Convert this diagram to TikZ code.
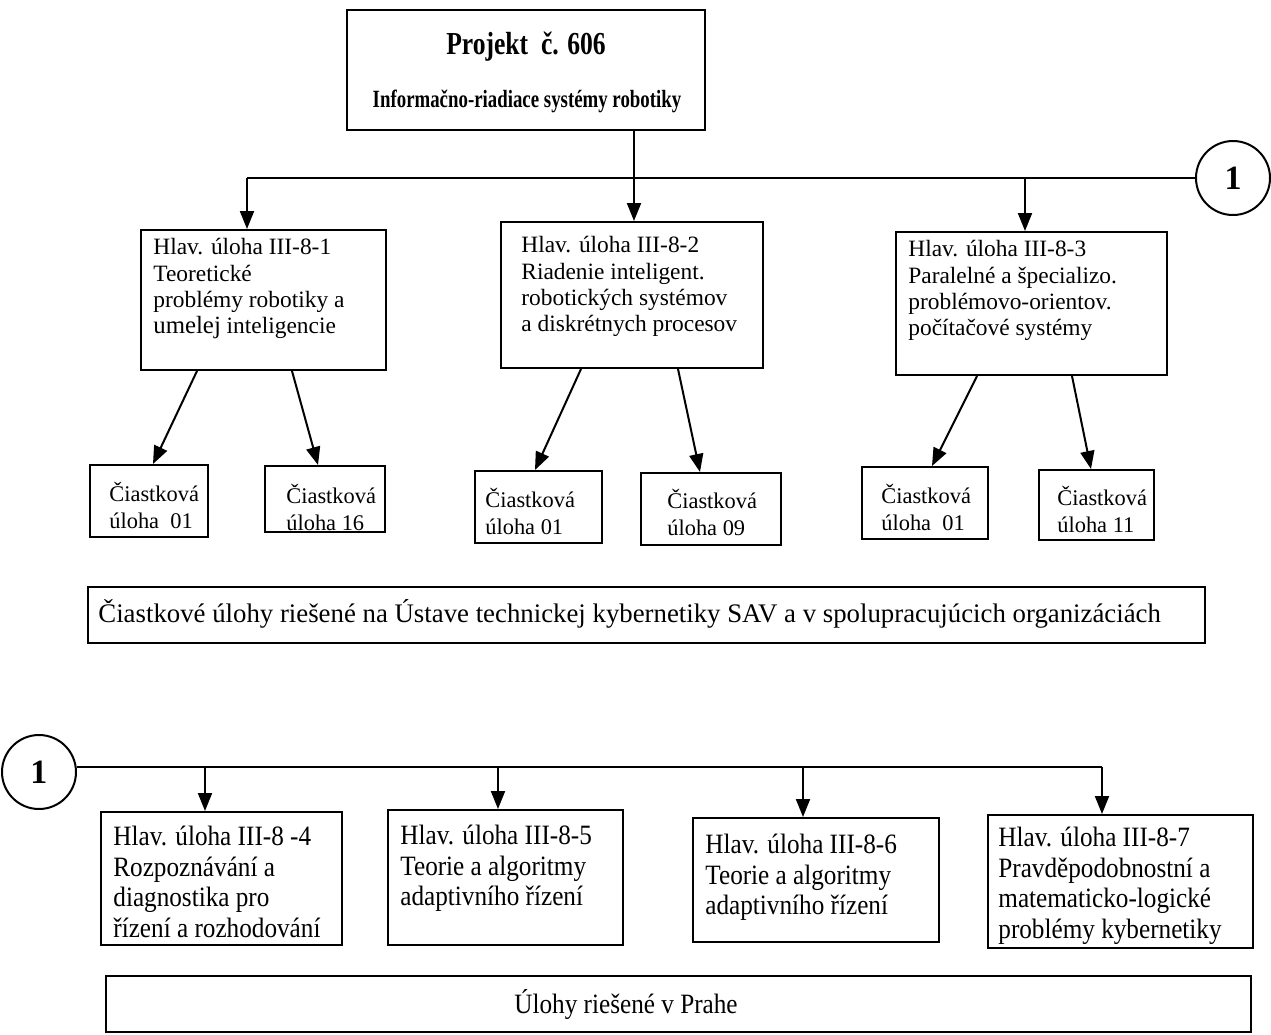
\documentclass[tikz,border=0pt]{standalone}
\usepackage{fontspec}
\setmainfont{Liberation Serif}
\newfontfamily\narrowfont[FakeStretch=0.9]{Liberation Serif}
\newfontfamily\titlefont[FakeStretch=0.8]{Liberation Serif}
\newfontfamily\subtitlefont[FakeStretch=0.76]{Liberation Serif}
\usetikzlibrary{arrows.meta,fit}
\begin{document}
\begin{tikzpicture}[x=0.5pt,y=-0.5pt,
  box/.style={draw, line width=1pt, inner sep=0pt},
  txt/.style={inner sep=0pt, anchor=north west, align=left, font=\fontsize{11.7}{13.2}\selectfont},
  stxt/.style={inner sep=0pt, anchor=north west, align=left, font=\fontsize{11.2}{13.4}\selectfont},
  ltxt/.style={inner sep=0pt, anchor=north west, align=left, font=\narrowfont\fontsize{14}{15.25}\selectfont},
  ln/.style={line width=1pt},
  arr/.style={line width=1pt, -{Triangle[length=9pt,width=7pt]}},
  ring/.style={circle, draw, line width=1pt, minimum size=37pt, inner sep=0pt, font=\fontsize{17}{17}\selectfont\bfseries}
]
\path[use as bounding box] (0,0) rectangle (1271,1035);

% top box
\node[box, line width=1.2pt, fit={(347,10)(705,130)}] (top) {};
\node[inner sep=0pt, font=\titlefont\bfseries\fontsize{16}{18}\selectfont] (title) at (526,47) {Projekt\ \ č. 606};
\node[inner sep=0pt, font=\subtitlefont\bfseries\fontsize{12.4}{14}\selectfont] (sub) at (527,101) {Informačno-riadiace systémy robotiky};

% main tasks
\node[box, fit={(141,230)(386,370)}] (b1) {};
\node[txt] (b1t) at (153,238) {Hlav. úloha III-8-1\\Teoretické\\problémy robotiky a\\{\fontsize{12.4}{13.2}\selectfont umelej} inteligencie};
\node[box, fit={(501,222)(763,368)}] (b2) {};
\node[txt] (b2t) at (521,236) {Hlav. úloha III-8-2\\Riadenie inteligent.\\robotických systémov\\a diskrétnych procesov};
\node[box, fit={(896,232)(1167,375)}] (b3) {};
\node[txt] (b3t) at (908,240) {Hlav. úloha III-8-3\\Paralelné a špecializo.\\problémovo-orientov.\\počítačové systémy};

% bus 1
\coordinate (hb) at (634,178);
\coordinate (a1) at (247,178);
\coordinate (a3) at (1025,178);
\node[ring] (r1) at (1233,178) {1};
\draw[ln] (top.south -| hb) -- (hb);
\draw[ln] (a1) -- (r1.west);
\draw[arr] (a1) -- (a1 |- b1.north);
\draw[arr] (hb) -- (hb |- b2.north);
\draw[arr] (a3) -- (a3 |- b3.north);

% sub tasks
\node[box, fit={(90,465)(208,537)}] (s1a) {};
\node[stxt] (s1at) at (109,482) {Čiastková\\úloha\ \ 01};
\node[box, fit={(265,466)(385,532)}] (s1b) {};
\node[stxt] (s1bt) at (286,484) {Čiastková\\úloha 16};
\node[box, fit={(475,471)(602,543)}] (s2a) {};
\node[stxt] (s2at) at (485,488) {Čiastková\\úloha 01};
\node[box, fit={(641,473)(781,545)}] (s2b) {};
\node[stxt] (s2bt) at (667,489) {Čiastková\\úloha 09};
\node[box, fit={(862,467)(988,539)}] (s3a) {};
\node[stxt] (s3at) at (881,484) {Čiastková\\úloha\ \ 01};
\node[box, fit={(1039,470)(1154,540)}] (s3b) {};
\node[stxt] (s3bt) at (1057,486) {Čiastková\\úloha 11};

\draw[arr] (b1.south -| 197,0) -- (s1a.north -| 153,0);
\draw[arr] (b1.south -| 292,0) -- (s1b.north -| 318,0);
\draw[arr] (b2.south -| 581,0) -- (s2a.north -| 535,0);
\draw[arr] (b2.south -| 678,0) -- (s2b.north -| 700,0);
\draw[arr] (b3.south -| 977,0) -- (s3a.north -| 932,0);
\draw[arr] (b3.south -| 1072,0) -- (s3b.north -| 1091,0);

% wide box 1
\node[box, fit={(88,587)(1205,643)}] (w1) {};
\node[inner sep=0pt, anchor=west, font=\fontsize{13.4}{15}\selectfont] (w1t) at (98,614) {Čiastkové úlohy riešené na Ústave technickej kybernetiky SAV a v spolupracujúcich organizáciách};

% bus 2
\node[ring] (r2) at (39,772) {1};
\coordinate (d4) at (205,767);
\coordinate (d5) at (498,767);
\coordinate (d6) at (803,767);
\coordinate (d7) at (1102,767);
\draw[ln] (r2.east |- d7) -- (d7);

\node[box, fit={(101,812)(342,945)}] (c4) {};
\node[ltxt] (c4t) at (113,826) {Hlav. úloha III-8 -4\\Rozpoznávání a\\diagnostika pro\\řízení a rozhodování};
\node[box, fit={(388,810)(623,945)}] (c5) {};
\node[ltxt] (c5t) at (400,825) {Hlav. úloha III-8-5\\Teorie a algoritmy\\adaptivního řízení};
\node[box, fit={(693,818)(939,942)}] (c6) {};
\node[ltxt] (c6t) at (705,834) {Hlav. úloha III-8-6\\Teorie a algoritmy\\adaptivního řízení};
\node[box, fit={(988,815)(1253,948)}] (c7) {};
\node[ltxt] (c7t) at (998,827) {Hlav. úloha III-8-7\\Pravděpodobnostní a\\matematicko-logické\\problémy kybernetiky};

\draw[arr] (d4) -- (d4 |- c4.north);
\draw[arr] (d5) -- (d5 |- c5.north);
\draw[arr] (d6) -- (d6 |- c6.north);
\draw[arr] (d7) -- (d7 |- c7.north);

% wide box 2
\node[box, fit={(106,976)(1251,1032)}] (w2) {};
\node[inner sep=0pt, font=\narrowfont\fontsize{14}{15.25}\selectfont] (w2t) at (626,1004) {Úlohy riešené v Prahe};
\end{tikzpicture}
\end{document}
